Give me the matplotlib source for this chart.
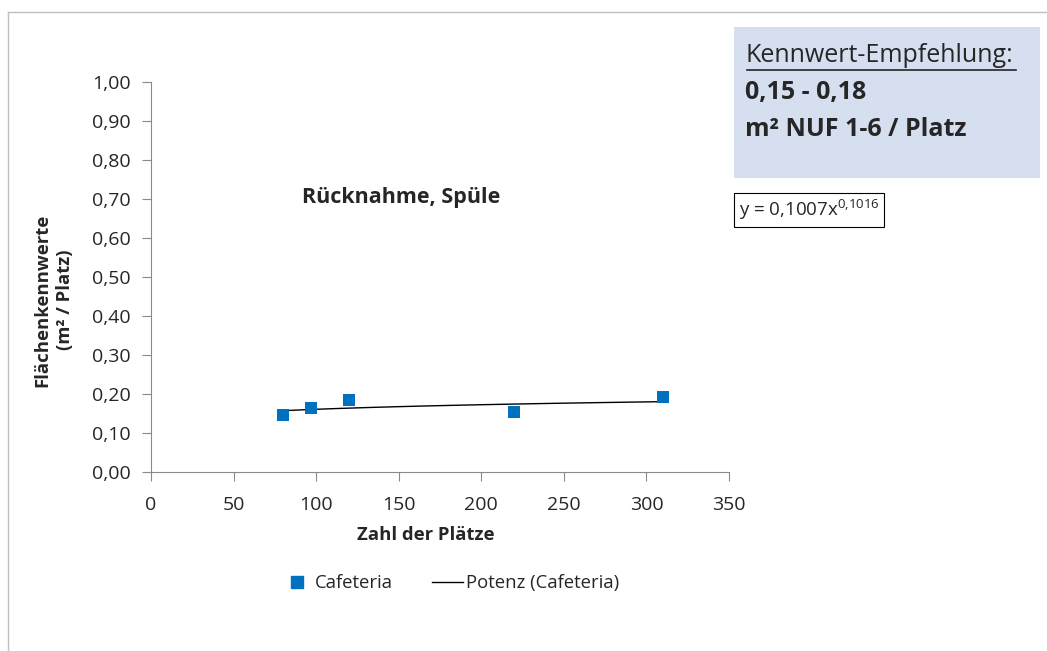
import matplotlib.pyplot as plt
import numpy as np
from matplotlib.lines import Line2D
from matplotlib.ticker import FuncFormatter

plt.rcParams["font.family"] = ["Open Sans", "DejaVu Sans"]

# Cafeteria data
plaetze = [80, 97, 120, 220, 310]
kennwerte = [0.147, 0.163, 0.184, 0.153, 0.192]

# power trendline as printed on the chart: y = a * x^b
trend_a = 0.1007
trend_b = 0.1016

x_ticks = [0, 50, 100, 150, 200, 250, 300, 350]
y_ticks = [0.0, 0.1, 0.2, 0.3, 0.4, 0.5, 0.6, 0.7, 0.8, 0.9, 1.0]

W, H = 1047, 651
fig = plt.figure(figsize=(W / 100, H / 100), dpi=100)
ax = fig.add_axes([151 / W, 1 - 472 / H, 578 / W, 390 / H])

blue = "#0070C0"
grey = "#898989"
txt = "#262626"

ax.scatter(plaetze, kennwerte, marker="s", s=75, color=blue, zorder=3,
           linewidths=0)
xs = np.linspace(min(plaetze), max(plaetze), 100)
ax.plot(xs, trend_a * xs ** trend_b, color="black", lw=1.0, zorder=2)

ax.set_xlim(0, 350)
ax.set_ylim(0, 1.0)
ax.set_xticks(x_ticks)
ax.set_yticks(y_ticks)
ax.yaxis.set_major_formatter(FuncFormatter(lambda v, p: f"{v:.2f}".replace(".", ",")))
for s in ["top", "right"]:
    ax.spines[s].set_visible(False)
for s in ["left", "bottom"]:
    ax.spines[s].set_color(grey)
ax.tick_params(direction="out", color=grey, length=6.5, labelsize=14,
               labelcolor=txt)
ax.tick_params(axis="x", pad=11)
ax.tick_params(axis="y", pad=8)

# axis titles (x title sits left of the axis centre in the original)
fig.text(426 / W, 1 - 535 / H, "Zahl der Plätze", fontsize=13.3,
         fontweight="bold", color=txt, ha="center", va="center")
fig.text(54 / W, 1 - 300 / H, "Flächenkennwerte\n(m² / Platz)", fontsize=13.3,
         fontweight="bold", color=txt, rotation=90, ha="center", va="center",
         linespacing=1.35, multialignment="center")

fig.text(401 / W, 1 - 197 / H, "Rücknahme, Spüle", fontsize=15.5,
         fontweight="bold", color=txt, ha="center", va="center")

# outer chart frame (only top and left visible)
fig.add_artist(Line2D([8 / W, 8 / W], [0, 1 - 12 / H], transform=fig.transFigure,
                      color="#BFBFBF", lw=1))
fig.add_artist(Line2D([8 / W, 1], [1 - 12 / H, 1 - 12 / H],
                      transform=fig.transFigure, color="#BFBFBF", lw=1))

# recommendation box
fig.patches.append(plt.Rectangle((734 / W, 1 - 178 / H), 306 / W, 151 / H,
                                 transform=fig.transFigure,
                                 facecolor="#D5DFF0", edgecolor="none"))
fig.text(745 / W, 1 - 56 / H, "Kennwert-Empfehlung:", fontsize=18,
         color=txt, ha="left", va="center")
fig.add_artist(Line2D([747 / W, 1016 / W], [1 - 70 / H, 1 - 70 / H],
                      transform=fig.transFigure, color=txt, lw=1.2))
fig.text(745 / W, 1 - 92 / H, "0,15 - 0,18", fontsize=18, fontweight="bold",
         color=txt, ha="left", va="center")
fig.text(745 / W, 1 - 129 / H, "m² NUF 1-6 / Platz", fontsize=18,
         fontweight="bold", color=txt, ha="left", va="center")

# trendline equation
fig.text(739 / W, 1 - 210 / H, r"y = 0,1007x$^{\mathregular{0{,}1016}}$",
         fontsize=13.5, color=txt, ha="left", va="center",
         bbox=dict(boxstyle="square,pad=0.25", facecolor="white",
                   edgecolor="black", lw=0.8))

handles = [
    Line2D([], [], marker="s", ls="none", color=blue, markersize=8.6),
    Line2D([], [], color="black", lw=1.0),
]
fig.legend(handles, ["Cafeteria", "Potenz (Cafeteria)"], loc="center",
           bbox_to_anchor=(450 / W, 1 - 583 / H), ncol=2, frameon=False,
           fontsize=13.3, handlelength=1.7, handletextpad=0.15,
           columnspacing=2.1, labelcolor=txt)

fig.savefig("out.png", dpi=100)
